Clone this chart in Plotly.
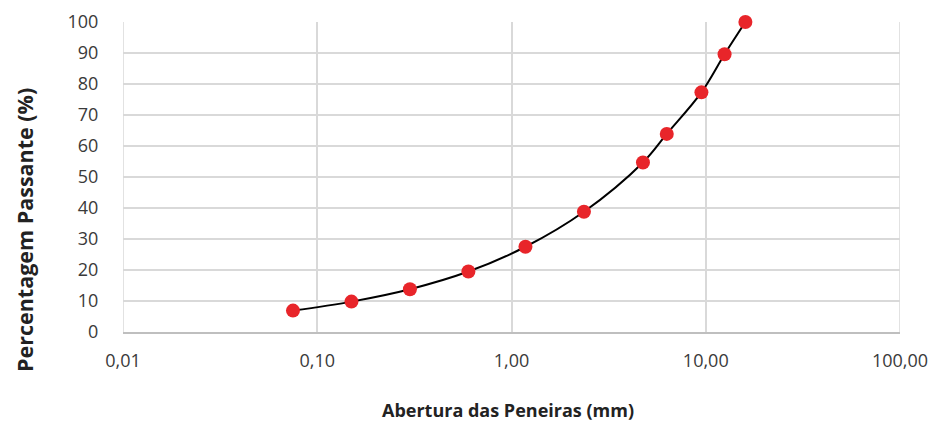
import plotly.graph_objects as go

abertura_mm = [0.075, 0.15, 0.3, 0.6, 1.18, 2.36, 4.75, 6.3, 9.5, 12.5, 16.0]
passante_pct = [6.9, 9.8, 13.8, 19.5, 27.5, 38.8, 54.7, 63.9, 77.3, 89.6, 100.0]

x_tickvals = [0.01, 0.1, 1, 10, 100]
x_ticktext = ["0,01", "0,10", "1,00", "10,00", "100,00"]
y_tickvals = list(range(0, 101, 10))

fig = go.Figure()
fig.add_trace(go.Scatter(
    x=abertura_mm, y=passante_pct, mode="lines+markers",
    line=dict(color="black", width=2, shape="spline", smoothing=1.0),
    marker=dict(color="#e8252a", size=14, line=dict(width=0)),
    showlegend=False, cliponaxis=False,
))

fig.update_layout(
    width=935, height=440,
    margin=dict(l=123, r=35, t=22, b=108),
    paper_bgcolor="white", plot_bgcolor="white",
    font=dict(family="Open Sans, Liberation Sans, sans-serif", color="#3a3a3a", size=18),
)
fig.update_xaxes(
    type="log", range=[-2, 2], automargin=False,
    tickvals=x_tickvals, ticktext=x_ticktext,
    showgrid=True, gridcolor="#d9d9d9", gridwidth=1.5,
    showline=True, linecolor="#bfbfbf", linewidth=2,
    ticks="outside", ticklen=11, tickcolor="rgba(0,0,0,0)",
    zeroline=False, mirror=False,
)
fig.update_yaxes(
    range=[0, 100], tickvals=y_tickvals, automargin=False,
    showgrid=True, gridcolor="#d9d9d9", gridwidth=1.5,
    showline=False, zeroline=False,
    ticks="outside", ticklen=20, tickcolor="rgba(0,0,0,0)",
)
fig.add_shape(type="line", xref="x", yref="paper", x0=0.01, x1=0.01, y0=0, y1=1,
              line=dict(color="#d9d9d9", width=1.5), layer="below")
fig.add_shape(type="line", xref="x", yref="paper", x0=100, x1=100, y0=0, y1=1,
              line=dict(color="#d9d9d9", width=1.5), layer="below")

fig.add_annotation(text="<b>Abertura das Peneiras (mm)</b>", xref="paper", yref="paper",
                   x=(508 - 123) / 777, y=-(410 - 332) / 310, showarrow=False,
                   xanchor="center", yanchor="middle",
                   font=dict(size=18, color="#222222"))
fig.add_annotation(text="<b>Percentagem Passante (%)</b>", xref="paper", yref="paper",
                   x=-(123 - 25) / 777, y=(332 - 230) / 310, showarrow=False,
                   xanchor="center", yanchor="middle", textangle=-90,
                   font=dict(size=21.5, color="#222222"))

fig.write_html("out.html")
